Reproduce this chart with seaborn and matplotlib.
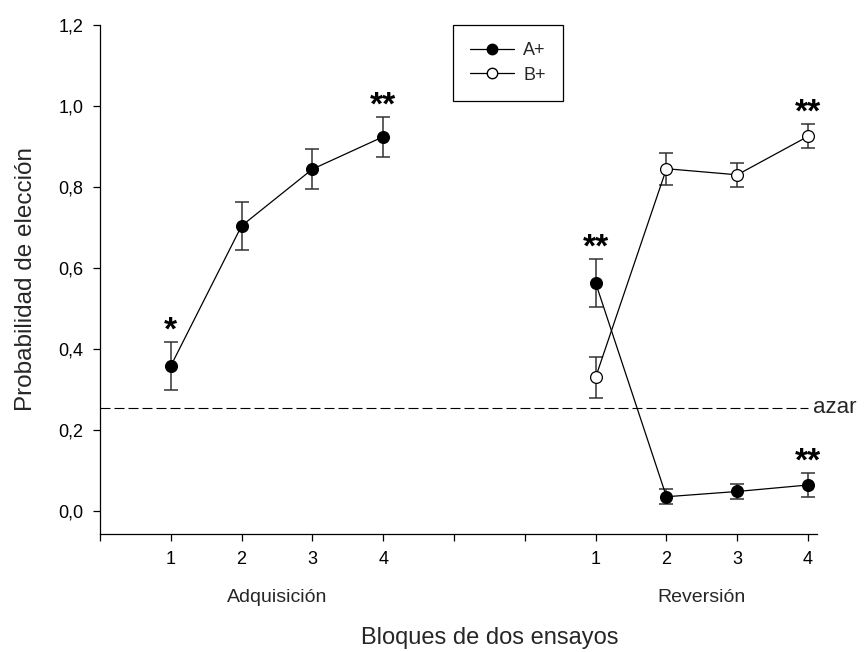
import numpy as np
import pandas as pd
import matplotlib.pyplot as plt
import seaborn as sns
from matplotlib.lines import Line2D

# Datos (probabilidad media de elección y error estándar por bloque)
BLOQUE = [1, 2, 3, 4]
A_ADQ = [0.358, 0.704, 0.844, 0.924]
A_ADQ_ERR = [0.060, 0.060, 0.049, 0.049]
A_REV = [0.563, 0.035, 0.048, 0.064]
A_REV_ERR = [0.060, 0.018, 0.019, 0.029]
B_REV = [0.330, 0.845, 0.830, 0.925]
B_REV_ERR = [0.050, 0.040, 0.030, 0.030]
STARS_A_ADQ = ["*", "", "", "**"]
STARS_A_REV = ["**", "", "", "**"]
STARS_B_REV = ["", "", "", "**"]
AZAR = 0.255
FASES = ["Adquisición", "Reversión"]
Y_TICKS = [0.0, 0.2, 0.4, 0.6, 0.8, 1.0, 1.2]
Y_LABELS = ["0,0", "0,2", "0,4", "0,6", "0,8", "1,0", "1,2"]

GAP = 6  # desplazamiento de la fase de reversión en el eje x

sns.set_theme(style="ticks")
plt.rcParams["font.family"] = ["Liberation Sans", "DejaVu Sans"]

fig = plt.figure(figsize=(8.65, 6.52), dpi=100)
ax = fig.add_axes([0.1156, 0.181, 0.8284, 0.7807])

x_adq = np.array(BLOQUE)
x_rev = np.array(BLOQUE) + GAP

series = [
    (x_adq, A_ADQ, A_ADQ_ERR, "black", STARS_A_ADQ),
    (x_rev, A_REV, A_REV_ERR, "black", STARS_A_REV),
    (x_rev, B_REV, B_REV_ERR, "white", STARS_B_REV),
]

for xs, ys, err, face, stars in series:
    ax.errorbar(xs, ys, yerr=err, fmt="none", ecolor="#333333",
                elinewidth=1.1, capsize=5, capthick=1.1, zorder=2)
    df = pd.DataFrame({"x": xs, "y": ys})
    sns.lineplot(data=df, x="x", y="y", ax=ax, color="black", lw=0.9,
                 marker="o", markersize=8.5, markerfacecolor=face,
                 markeredgecolor="black", markeredgewidth=0.9, zorder=3)
    for xi, yi, ei, s in zip(xs, ys, err, stars):
        if s:
            ax.text(xi, yi + ei + 0.006, s, ha="center", va="baseline",
                    fontsize=24, fontweight="bold", color="black")

# línea de azar
ax.axhline(AZAR, xmin=0, xmax=0.988, color="black", lw=0.8,
           dashes=(9, 3.6), zorder=1)
ax.text(0.995, AZAR, "azar", transform=ax.get_yaxis_transform(),
        ha="left", va="center", fontsize=16, clip_on=False)

ax.set_xlim(0, 10.12)
ax.set_ylim(-0.057, 1.2)
ax.set_xticks(np.arange(0, 11))
ax.set_xticklabels([""] + [str(b) for b in BLOQUE] + ["", ""] + [str(b) for b in BLOQUE])
ax.set_yticks(Y_TICKS)
ax.set_yticklabels(Y_LABELS)
ax.tick_params(direction="out", length=5, width=0.9, labelsize=13, pad=7,
               color="black", labelcolor="black")
sns.despine(ax=ax)
for side in ["left", "bottom"]:
    ax.spines[side].set_color("black")
    ax.spines[side].set_linewidth(0.9)

# etiquetas de fase
xt = ax.get_xaxis_transform()
ax.text(np.mean(x_adq), -0.124, FASES[0], transform=xt, ha="center",
        va="center", fontsize=14)
ax.text(np.mean(x_rev), -0.124, FASES[1], transform=xt, ha="center",
        va="center", fontsize=14)

ax.set_xlabel("Bloques de dos ensayos", fontsize=17)
ax.xaxis.label.set_va("center")
ax.xaxis.set_label_coords(5.5 / 10.12, -0.204)
ax.set_ylabel("Probabilidad de elección", fontsize=17.5)
ax.yaxis.label.set_va("center")
ax.yaxis.set_label_coords(-0.103, 0.5)

handles = [
    Line2D([], [], color="black", lw=0.9, marker="o", markersize=7.5,
           markerfacecolor="black", markeredgecolor="black"),
    Line2D([], [], color="black", lw=0.9, marker="o", markersize=7.5,
           markerfacecolor="white", markeredgecolor="black"),
]
leg = ax.legend(handles, ["A+", "B+"], loc="upper left",
                bbox_to_anchor=(0.4927, 1.0), borderaxespad=0,
                frameon=True, fancybox=False, framealpha=1,
                edgecolor="black", fontsize=13, handlelength=2.4,
                handletextpad=0.55, borderpad=0.95, labelspacing=0.42)
leg.get_frame().set_linewidth(0.9)

fig.savefig("out.png", dpi=100)
